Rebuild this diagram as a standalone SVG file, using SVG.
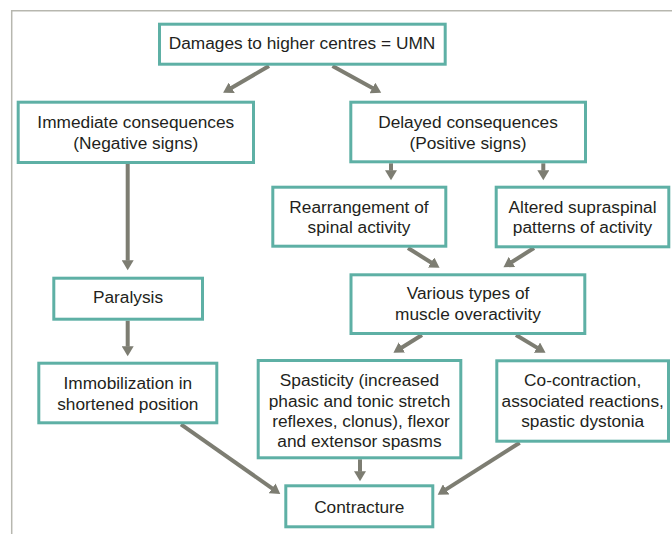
<svg xmlns="http://www.w3.org/2000/svg" width="672" height="534" viewBox="0 0 672 534">
<style>
.box{fill:#ffffff;stroke:#5eb0a5;stroke-width:3}
.t{font-family:"Liberation Sans",Arial,sans-serif;font-size:17.3px;fill:#231f20;text-anchor:middle}
.c{stroke:#7d7d72;stroke-width:4;fill:none}
.frame{stroke:#b7b7af;stroke-width:1.5;fill:none}
</style>
<defs>
<marker id="ah" markerUnits="userSpaceOnUse" markerWidth="12" markerHeight="12" refX="0.5" refY="6" orient="auto">
<path d="M0,0 L10,6 L0,12 z" fill="#7d7d72"/>
</marker>
</defs>
<rect width="672" height="534" fill="#ffffff"/>
<path class="frame" d="M672,10.7 H11.7 V534"/>
<g id="connectors">
<line class="c" x1="269" y1="66" x2="231.3" y2="88" marker-end="url(#ah)"/>
<line class="c" x1="332.5" y1="66" x2="372.9" y2="88.2" marker-end="url(#ah)"/>
<line class="c" x1="127.7" y1="164" x2="127.7" y2="260.7" marker-end="url(#ah)"/>
<line class="c" x1="127.7" y1="320.7" x2="127.7" y2="346.7" marker-end="url(#ah)"/>
<line class="c" x1="391" y1="163.3" x2="391" y2="170.7" marker-end="url(#ah)"/>
<line class="c" x1="543.3" y1="163.3" x2="543.3" y2="170.7" marker-end="url(#ah)"/>
<line class="c" x1="408" y1="248" x2="431.5" y2="262.7" marker-end="url(#ah)"/>
<line class="c" x1="534" y1="248" x2="511.5" y2="262.2" marker-end="url(#ah)"/>
<line class="c" x1="422" y1="335" x2="401.5" y2="347.7" marker-end="url(#ah)"/>
<line class="c" x1="516" y1="335" x2="537.4" y2="347.9" marker-end="url(#ah)"/>
<line class="c" x1="360" y1="459.3" x2="360" y2="471.7" marker-end="url(#ah)"/>
<line class="c" x1="181" y1="424.3" x2="272.5" y2="488.6" marker-end="url(#ah)"/>
<line class="c" x1="519.7" y1="442.7" x2="445.7" y2="489.6" marker-end="url(#ah)"/>
</g>
<g id="n-top">
<rect class="box" x="159.5" y="24.2" width="285.7" height="40"/>
<text class="t" x="302" y="48.5">Damages to higher centres = UMN</text>
</g>
<g id="n-immediate">
<rect class="box" x="18.2" y="102.2" width="235.3" height="60.3"/>
<text class="t" x="135.8" y="128.3">Immediate consequences</text>
<text class="t" x="135.8" y="149.3">(Negative signs)</text>
</g>
<g id="n-delayed">
<rect class="box" x="350.8" y="102.2" width="234.7" height="59.6"/>
<text class="t" x="468" y="127.5">Delayed consequences</text>
<text class="t" x="468" y="148.5">(Positive signs)</text>
</g>
<g id="n-rearrangement">
<rect class="box" x="272.8" y="187.2" width="173" height="59"/>
<text class="t" x="359" y="212.5">Rearrangement of</text>
<text class="t" x="359" y="233.3">spinal activity</text>
</g>
<g id="n-altered">
<rect class="box" x="496.2" y="187.2" width="172.6" height="59.6"/>
<text class="t" x="582.5" y="212.7">Altered supraspinal</text>
<text class="t" x="582.5" y="233.3">patterns of activity</text>
</g>
<g id="n-various">
<rect class="box" x="351" y="274.8" width="233.8" height="58.7"/>
<text class="t" x="468" y="299.3">Various types of</text>
<text class="t" x="468" y="320">muscle overactivity</text>
</g>
<g id="n-paralysis">
<rect class="box" x="53.8" y="278.2" width="148.7" height="41"/>
<text class="t" x="128" y="303.3">Paralysis</text>
</g>
<g id="n-immobilization">
<rect class="box" x="38.8" y="363.2" width="178" height="59.6"/>
<text class="t" x="127.8" y="389.3">Immobilization in</text>
<text class="t" x="127.8" y="409.8">shortened position</text>
</g>
<g id="n-spasticity">
<rect class="box" x="258.2" y="360.5" width="202.6" height="97.3"/>
<text class="t" x="359.5" y="386">Spasticity (increased</text>
<text class="t" x="359.5" y="406.6">phasic and tonic stretch</text>
<text class="t" x="361" y="426.8">reflexes, clonus), flexor</text>
<text class="t" x="359.5" y="446.8">and extensor spasms</text>
</g>
<g id="n-cocontraction">
<rect class="box" x="496.8" y="360.8" width="171.7" height="80.4"/>
<text class="t" x="582.7" y="386">Co-contraction,</text>
<text class="t" x="582.7" y="406.7">associated reactions,</text>
<text class="t" x="582.7" y="426.7">spastic dystonia</text>
</g>
<g id="n-contracture">
<rect class="box" x="285.8" y="485.8" width="147" height="41"/>
<text class="t" x="359.3" y="512.7">Contracture</text>
</g>
</svg>
